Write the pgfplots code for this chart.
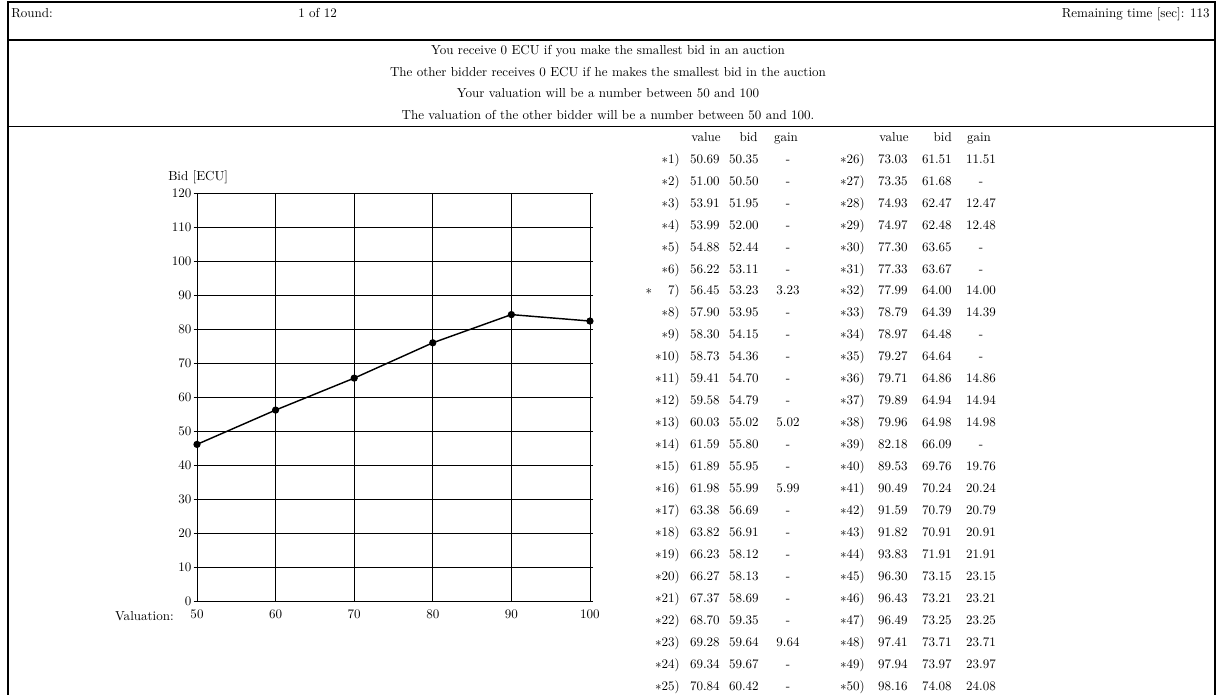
\documentclass[border=0pt]{standalone}
\usepackage{pgfplots}
\pgfplotsset{compat=1.18}
\begin{document}
\begin{tikzpicture}[x=0.767pt, y=-0.767pt, every node/.style={inner sep=0pt, font=\normalsize}]
% page frame
\path[use as bounding box] (0,0) rectangle (1217,695);
\draw[line width=1.5pt] (8,695) -- (8,2) -- (1215,2) -- (1215,695);
\draw[line width=1.9pt] (8,40) -- (1215,40);
\draw[line width=1.1pt] (8,126.5) -- (1215,126.5);

% top bar
\node[anchor=base west] at (11,17.5) {Round:};
\node[anchor=base west] at (298,17.5) {1 of 12};
\node[anchor=base east] at (1210,17.5) {Remaining time [sec]: 113};

% instructions
\node[anchor=base] at (608,54.5) {You receive 0 ECU if you make the smallest bid in an auction};
\node[anchor=base] at (608,76.5) {The other bidder receives 0 ECU if he makes the smallest bid in the auction};
\node[anchor=base] at (608,98) {Your valuation will be a number between 50 and 100};
\node[anchor=base] at (608,119.5) {The valuation of the other bidder will be a number between 50 and 100.};

% bid chart
\coordinate (O) at (197,601);
\node[anchor=base west] at (168,181) {Bid [ECU]};
\node[anchor=base east] at (174,620.5) {Valuation:};
\begin{axis}[
    at={(O)}, anchor=south west,
    scale only axis,
    width=301.4pt, height=312.7pt,
    xmin=50, xmax=100, ymin=0, ymax=120,
    xtick={50,60,...,100},
    ytick={0,10,...,120},
    grid=major,
    major grid style={black, line width=0.5pt},
    axis line style={black, line width=0.6pt},
    tick align=outside,
    major tick length=2.5pt,
    xtick style={draw=none},
    ytick style={black, line width=0.5pt},
    xticklabel style={yshift=-4.5pt},
    yticklabel style={xshift=-1.6pt},
    clip=false,
    ]
    \addplot[black, line width=1.1pt, mark=*, mark size=2.2pt]
        coordinates {(50,46.1) (60,56.2) (70,65.6) (80,76.0) (90,84.3) (100,82.4)};
\end{axis}

% bids table, left half
\node[anchor=base east] at (721,141.5) {value};
\node[anchor=base east] at (758,141.5) {bid};
\node[anchor=base] at (786,141.5) {gain};
\foreach \l/\v/\b/\g [count=\k from 0] in {
    {$\ast$1)}/50.69/50.35/-, {$\ast$2)}/51.00/50.50/-, {$\ast$3)}/53.91/51.95/-,
    {$\ast$4)}/53.99/52.00/-, {$\ast$5)}/54.88/52.44/-, {$\ast$6)}/56.22/53.11/-,
    {7)}/56.45/53.23/3.23, {$\ast$8)}/57.90/53.95/-, {$\ast$9)}/58.30/54.15/-,
    {$\ast$10)}/58.73/54.36/-, {$\ast$11)}/59.41/54.70/-, {$\ast$12)}/59.58/54.79/-,
    {$\ast$13)}/60.03/55.02/5.02, {$\ast$14)}/61.59/55.80/-, {$\ast$15)}/61.89/55.95/-,
    {$\ast$16)}/61.98/55.99/5.99, {$\ast$17)}/63.38/56.69/-, {$\ast$18)}/63.82/56.91/-,
    {$\ast$19)}/66.23/58.12/-, {$\ast$20)}/66.27/58.13/-, {$\ast$21)}/67.37/58.69/-,
    {$\ast$22)}/68.70/59.35/-, {$\ast$23)}/69.28/59.64/9.64, {$\ast$24)}/69.34/59.67/-,
    {$\ast$25)}/70.84/60.42/-} {
  \pgfmathsetmacro\yy{163.2+\k*21.96}
  \node[anchor=base east] at (680,\yy) {\l};
  \node[anchor=base east] at (720,\yy) {\v};
  \node[anchor=base east] at (759,\yy) {\b};
  \node[anchor=base] at (788,\yy) {\g};
}
\node[anchor=base] at (649,{163.2+6*21.96}) {$\ast$};

% bids table, right half
\node[anchor=base east] at (909,141.5) {value};
\node[anchor=base east] at (952,141.5) {bid};
\node[anchor=base] at (979,141.5) {gain};
\foreach \n/\v/\b/\g [count=\k from 0] in {
    26/73.03/61.51/11.51, 27/73.35/61.68/-, 28/74.93/62.47/12.47,
    29/74.97/62.48/12.48, 30/77.30/63.65/-, 31/77.33/63.67/-,
    32/77.99/64.00/14.00, 33/78.79/64.39/14.39, 34/78.97/64.48/-,
    35/79.27/64.64/-, 36/79.71/64.86/14.86, 37/79.89/64.94/14.94,
    38/79.96/64.98/14.98, 39/82.18/66.09/-, 40/89.53/69.76/19.76,
    41/90.49/70.24/20.24, 42/91.59/70.79/20.79, 43/91.82/70.91/20.91,
    44/93.83/71.91/21.91, 45/96.30/73.15/23.15, 46/96.43/73.21/23.21,
    47/96.49/73.25/23.25, 48/97.41/73.71/23.71, 49/97.94/73.97/23.97,
    50/98.16/74.08/24.08} {
  \pgfmathsetmacro\yy{163.2+\k*21.96}
  \node[anchor=base east] at (865,\yy) {$\ast$\n)};
  \node[anchor=base east] at (908,\yy) {\v};
  \node[anchor=base east] at (952,\yy) {\b};
  \node[anchor=base] at (981,\yy) {\g};
}
\end{tikzpicture}
\end{document}
